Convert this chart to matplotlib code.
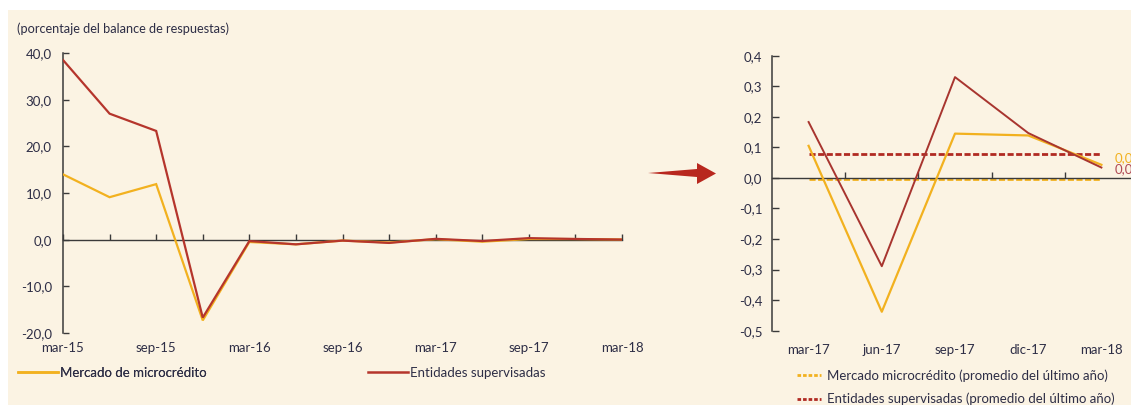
import matplotlib
matplotlib.use("Agg")
import matplotlib.pyplot as plt
from matplotlib.lines import Line2D
from matplotlib.patches import Polygon, Rectangle

# ---------------- data ----------------
quarters_left = ["mar-15", "jun-15", "sep-15", "dic-15", "mar-16", "jun-16", "sep-16",
                 "dic-16", "mar-17", "jun-17", "sep-17", "dic-17", "mar-18"]
left_tick_labels = ["mar-15", "", "sep-15", "", "mar-16", "", "sep-16", "",
                    "mar-17", "", "sep-17", "", "mar-18"]
mercado_left = [14.0, 9.1, 11.9, -17.3, -0.5, -1.0, -0.2, -0.6, 0.10, -0.44, 0.14, 0.13, 0.04]
entidades_left = [38.5, 27.0, 23.3, -16.7, -0.3, -1.0, -0.2, -0.7, 0.18, -0.29, 0.33, 0.15, 0.03]

quarters_right = ["mar-17", "jun-17", "sep-17", "dic-17", "mar-18"]
mercado_right = [0.105, -0.438, 0.145, 0.139, 0.043]
entidades_right = [0.183, -0.289, 0.330, 0.147, 0.034]
avg_mercado = -0.002
avg_entidades = 0.077

left_yticks = [-20, -10, 0, 10, 20, 30, 40]
right_yticks = [-0.5, -0.4, -0.3, -0.2, -0.1, 0.0, 0.1, 0.2, 0.3, 0.4]

# ---------------- style ----------------
plt.rcParams['font.family'] = ['Lato', 'DejaVu Sans']
BG = "#FBF3E3"
TXT = "#2E2E46"
YEL = "#F2B11F"
RED = "#B5352C"
RED2 = "#A8352F"
AXC = "#3A3A3A"
FS = 9.5

W, H = 1131, 405
fig = plt.figure(figsize=(W / 100, H / 100), dpi=100)
fig.patch.set_facecolor("white")
fig.add_artist(Rectangle((8 / W, 0), 1 - 8 / W, 1 - 10 / H, transform=fig.transFigure,
                         facecolor=BG, edgecolor="none", zorder=-10))


def fx(px):
    return px / W


def fy(py):
    return 1 - py / H


def fmt(v, nd):
    return f"{v:.{nd}f}".replace(".", ",")


# ---------------- left chart ----------------
axL = fig.add_axes([fx(63), fy(333), fx(622) - fx(63), fy(53) - fy(333)])
axL.set_facecolor("none")
xl = list(range(len(quarters_left)))
axL.plot(xl, mercado_left, color=YEL, lw=1.6, zorder=3, solid_joinstyle="miter")
axL.plot(xl, entidades_left, color=RED, lw=1.6, zorder=4, solid_joinstyle="miter")
axL.set_xlim(0, len(xl) - 1)
axL.set_ylim(-20, 40)
for s in ["top", "right"]:
    axL.spines[s].set_visible(False)
axL.spines["left"].set_color(AXC)
axL.spines["left"].set_linewidth(1.1)
axL.spines["bottom"].set_position(("data", 0))
axL.spines["bottom"].set_color(AXC)
axL.spines["bottom"].set_linewidth(1.0)
axL.set_yticks(left_yticks)
axL.set_yticklabels([fmt(v, 1) for v in left_yticks])
axL.tick_params(axis="y", direction="in", length=4, width=1, color=AXC,
                labelsize=FS, labelcolor=TXT, pad=8)
axL.set_xticks(xl)
axL.tick_params(axis="x", direction="in", length=4, width=1, color=AXC, labelbottom=False)
secL = axL.secondary_xaxis(0)
secL.set_xticks(xl)
secL.set_xticklabels(left_tick_labels)
secL.tick_params(length=0, labelsize=FS, labelcolor=TXT, pad=6.5)
secL.spines["bottom"].set_visible(False)

fig.text(fx(17), fy(29), "(porcentaje del balance de respuestas)", fontsize=9.2,
         color=TXT, va="center", ha="left")

# left legend (two entries on one row)
legL1 = fig.legend(handles=[Line2D([], [], color=YEL, lw=1.8)], labels=["Mercado de microcrédito"],
                   loc="center left", bbox_to_anchor=(fx(18), fy(373)), frameon=False,
                   fontsize=FS, handlelength=3.0, handletextpad=0.2, borderpad=0,
                   borderaxespad=0, labelcolor=TXT)
legL2 = fig.legend(handles=[Line2D([], [], color=RED, lw=1.8)], labels=["Entidades supervisadas"],
                   loc="center left", bbox_to_anchor=(fx(368), fy(373)), frameon=False,
                   fontsize=FS, handlelength=3.0, handletextpad=0.2, borderpad=0,
                   borderaxespad=0, labelcolor=TXT)
fig.add_artist(legL1)

# ---------------- arrow ----------------
arrow = Polygon([[fx(648), fy(173)], [fx(697), fy(169)], [fx(697), fy(163)],
                 [fx(716), fy(173.5)], [fx(697), fy(184)], [fx(697), fy(177)]],
                closed=True, transform=fig.transFigure, facecolor="#B8271E", edgecolor="none")
fig.add_artist(arrow)

# ---------------- right chart ----------------
axR = fig.add_axes([fx(772), fy(330.7), fx(1138) - fx(772), fy(55.7) - fy(330.7)])
axR.set_facecolor("none")
xr = list(range(len(quarters_right)))
axR.plot([xr[0], xr[-1]], [avg_mercado, avg_mercado], color=YEL, lw=2.0,
         dashes=(2.2, 0.9), zorder=2)
axR.plot([xr[0], xr[-1]], [avg_entidades, avg_entidades], color="#B02A22", lw=2.0,
         dashes=(2.2, 0.9), zorder=2)
axR.plot(xr, mercado_right, color=YEL, lw=1.6, zorder=3)
axR.plot(xr, entidades_right, color=RED2, lw=1.4, zorder=4)
axR.set_xlim(-0.5, len(xr) - 0.5)
axR.set_ylim(-0.5, 0.4)
for s in ["top", "right"]:
    axR.spines[s].set_visible(False)
axR.spines["left"].set_color(AXC)
axR.spines["left"].set_linewidth(1.1)
axR.spines["bottom"].set_position(("data", 0))
axR.spines["bottom"].set_color(AXC)
axR.spines["bottom"].set_linewidth(1.0)
axR.set_yticks(right_yticks)
axR.set_yticklabels([fmt(v, 1) for v in right_yticks])
axR.tick_params(axis="y", direction="in", length=5, width=1, color=AXC,
                labelsize=FS, labelcolor=TXT, pad=7)
axR.set_xticks([i + 0.5 for i in xr[:-1]])
axR.tick_params(axis="x", direction="in", length=4, width=1, color=AXC, labelbottom=False)
secR = axR.secondary_xaxis(0)
secR.set_xticks(xr)
secR.set_xticklabels(quarters_right)
secR.tick_params(length=0, labelsize=FS, labelcolor=TXT, pad=9.5)
secR.spines["bottom"].set_visible(False)

axR.annotate(fmt(mercado_right[-1], 1), xy=(xr[-1], mercado_right[-1]), xytext=(9.5, 5),
             textcoords="offset points", color=YEL, fontsize=FS, va="center", ha="left",
             annotation_clip=False)
axR.annotate(fmt(entidades_right[-1], 1), xy=(xr[-1], entidades_right[-1]), xytext=(9.5, -1),
             textcoords="offset points", color="#B04A55", fontsize=FS, va="center", ha="left",
             annotation_clip=False)

fig.legend(handles=[Line2D([], [], color=YEL, lw=2.0, dashes=(1.3, 0.7)),
                    Line2D([], [], color="#B02A22", lw=2.0, dashes=(1.3, 0.7))],
           labels=["Mercado microcrédito (promedio del último año)",
                   "Entidades supervisadas (promedio del último año)"],
           loc="upper left", bbox_to_anchor=(fx(797), fy(369)), frameon=False,
           fontsize=FS, handlelength=1.8, handletextpad=0.5, borderpad=0,
           borderaxespad=0, labelspacing=0.85, labelcolor=TXT)

fig.savefig("out.png", dpi=100, facecolor=fig.get_facecolor())
